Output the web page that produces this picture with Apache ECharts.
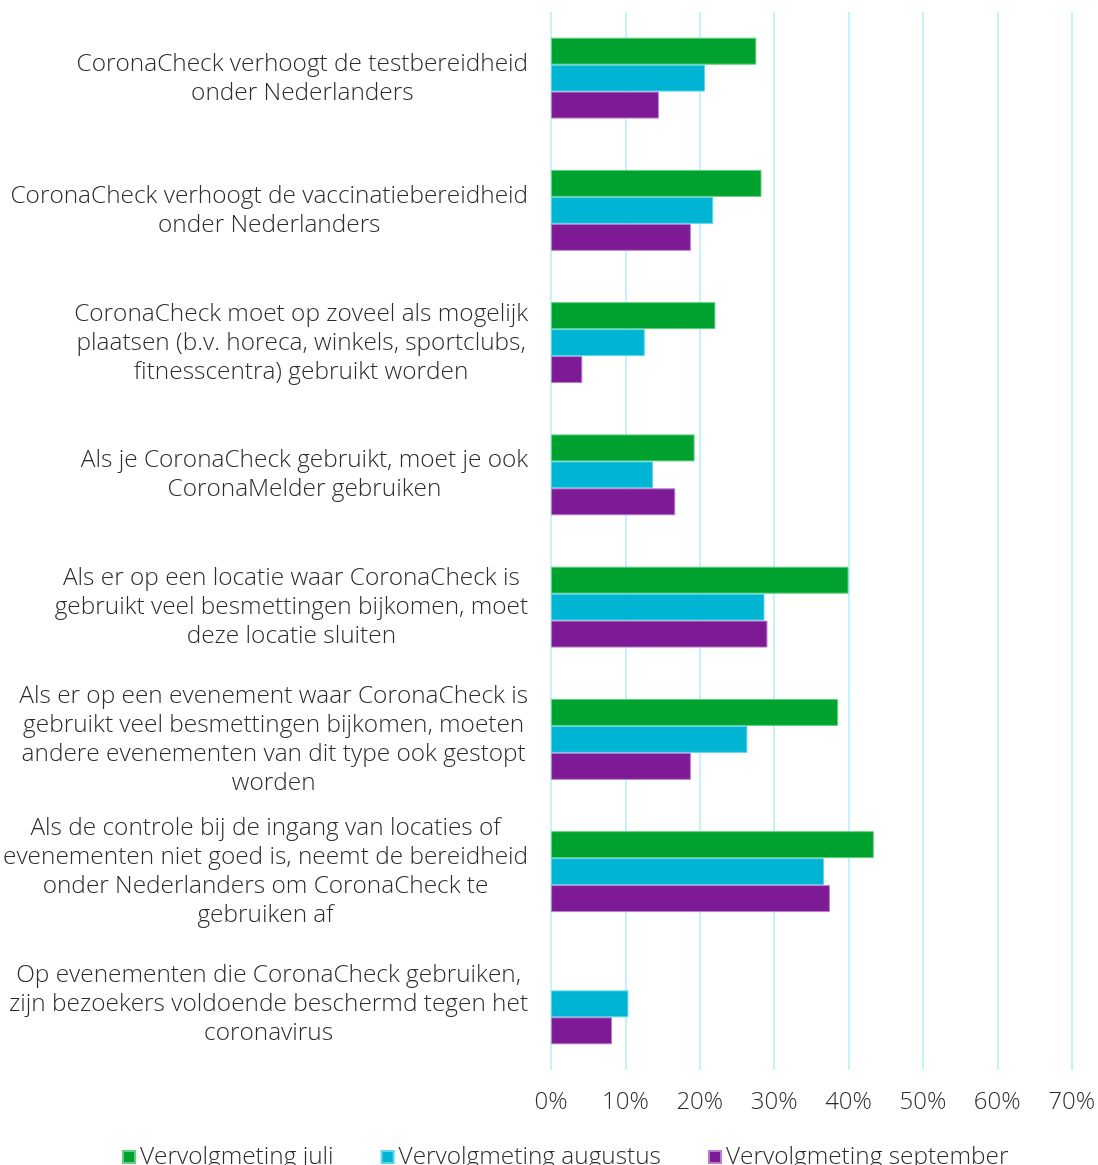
<!DOCTYPE html>
<html>
<head>
<meta charset="utf-8">
<script src="https://cdn.jsdelivr.net/npm/echarts@6/dist/echarts.min.js"></script>
<style>html,body{margin:0;padding:0;background:#fff}#c{width:1098px;height:1165px}</style>
</head>
<body>
<div id="c"></div>
<script>
const categories = [
  "CoronaCheck verhoogt de testbereidheid\nonder Nederlanders",
  "CoronaCheck verhoogt de vaccinatiebereidheid\nonder Nederlanders",
  "CoronaCheck moet op zoveel als mogelijk\nplaatsen (b.v. horeca, winkels, sportclubs,\nfitnesscentra) gebruikt worden",
  "Als je CoronaCheck gebruikt, moet je ook\nCoronaMelder gebruiken",
  "Als er op een locatie waar CoronaCheck is\ngebruikt veel besmettingen bijkomen, moet\ndeze locatie sluiten",
  "Als er op een evenement waar CoronaCheck is\ngebruikt veel besmettingen bijkomen, moeten\nandere evenementen van dit type ook gestopt\nworden",
  "Als de controle bij de ingang van locaties of\nevenementen niet goed is, neemt de bereidheid\nonder Nederlanders om CoronaCheck te\ngebruiken af",
  "Op evenementen die CoronaCheck gebruiken,\nzijn bezoekers voldoende beschermd tegen het\ncoronavirus"
];
const seriesNames = ["Vervolgmeting juli", "Vervolgmeting augustus", "Vervolgmeting september"];
const juli = [27.6, 28.3, 22.1, 19.3, 40.0, 38.6, 43.4, null];
const augustus = [20.7, 21.8, 12.6, 13.7, 28.7, 26.4, 36.7, 10.4];
const september = [14.5, 18.8, 4.2, 16.7, 29.1, 18.8, 37.5, 8.2];
const xTicks = { min: 0, max: 70, interval: 10 };
const colors = ["#00A22F", "#00B4D3", "#7F1A96"];
const borders = ["#5fd07f", "#5fd5ea", "#b77fc8"];

const FONT = "'Open Sans', sans-serif";
const FW = 300;
const FS = 24.4;
const TXT = '#2b2b2b';
const chart = echarts.init(document.getElementById('c'));
const values = [juli, augustus, september];
chart.setOption({
  animation: false,
  textStyle: { fontFamily: FONT },
  grid: { left: 550, right: 19, top: 12, bottom: 95, containLabel: false },
  legend: {
    data: seriesNames,
    bottom: -9,
    left: 117,
    itemWidth: 12, itemHeight: 12, itemGap: 47,
    icon: 'rect',
    textStyle: { fontSize: FS, color: TXT, fontFamily: FONT, fontWeight: FW }
  },
  xAxis: {
    type: 'value',
    min: xTicks.min, max: xTicks.max, interval: xTicks.interval,
    axisLine: { show: false },
    axisTick: { show: false },
    axisLabel: { formatter: '{value}%', fontSize: 24, color: TXT, margin: 20, fontFamily: FONT, fontWeight: FW },
    splitLine: { show: true, lineStyle: { color: '#c6f3fa', width: 2 } }
  },
  yAxis: {
    type: 'category',
    inverse: true,
    data: categories,
    axisLine: { show: false },
    axisTick: { show: false },
    axisLabel: {
      margin: 23,
      fontSize: FS,
      color: TXT,
      lineHeight: 29,
      fontFamily: FONT,
      fontWeight: FW,
      formatter: function (v) {
        return v.split('\n').map(l => '{c|' + l + '}').join('\n');
      },
      rich: { c: { align: 'center', fontSize: FS, lineHeight: 29, color: TXT, fontFamily: FONT, fontWeight: FW } }
    }
  },
  series: seriesNames.map((n, i) => ({
    name: n,
    type: 'bar',
    data: values[i],
    barGap: '0%',
    barCategoryGap: '38.8%',
    itemStyle: { color: colors[i], borderColor: borders[i], borderWidth: 1 }
  }))
});
</script>
</body>
</html>
